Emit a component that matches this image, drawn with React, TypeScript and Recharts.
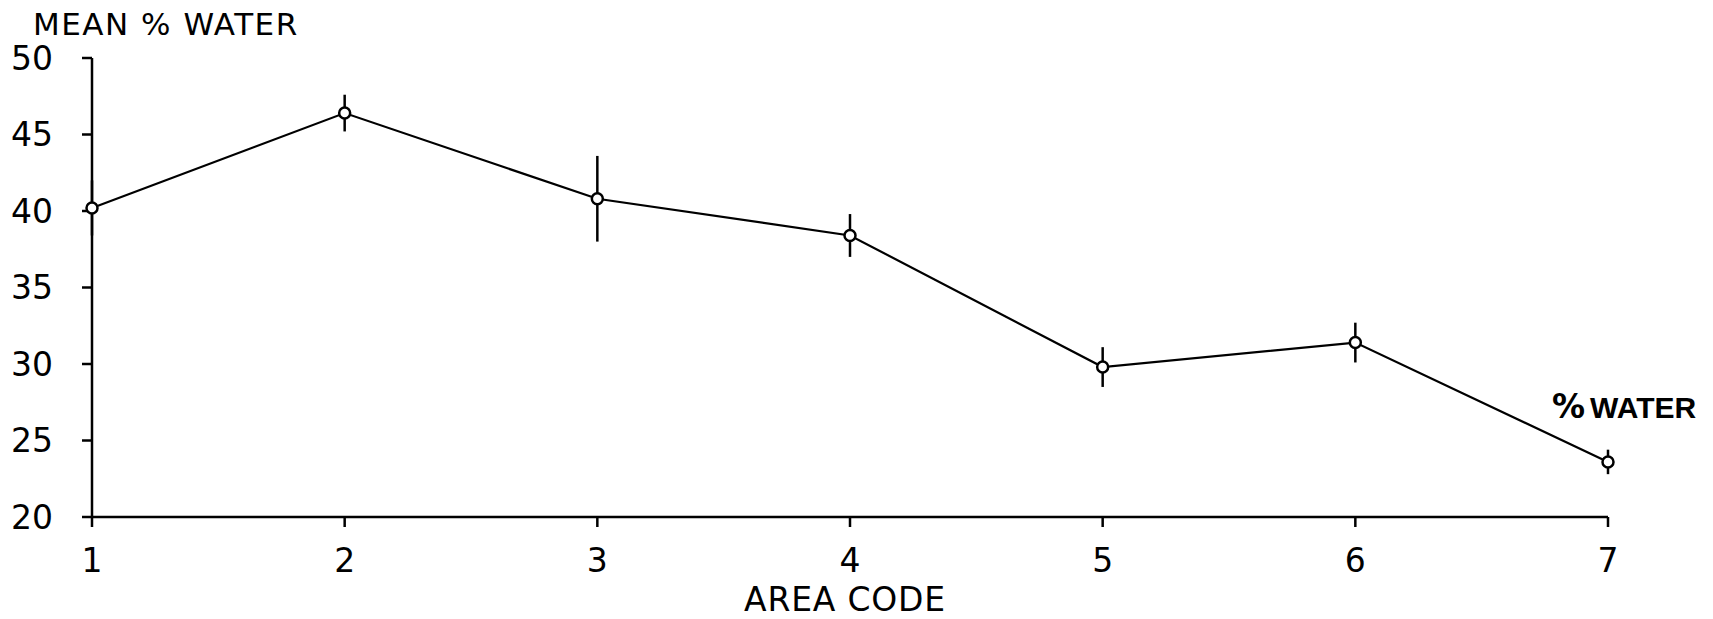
import React from 'react';
import { LineChart, Line, XAxis, YAxis, ErrorBar } from 'recharts';

// area codes along the x axis
const areaCodes = [1, 2, 3, 4, 5, 6, 7];
// mean % water per area
const meanWater = [40.2, 46.4, 40.8, 38.4, 29.8, 31.4, 23.6];
// half-length of each vertical error bar
const waterError = [1.8, 1.2, 2.8, 1.4, 1.3, 1.3, 0.8];

const yTicks = [20, 25, 30, 35, 40, 45, 50];
const xTicks = [1, 2, 3, 4, 5, 6, 7];

const data = areaCodes.map((area, i) => ({
  area,
  water: meanWater[i],
  err: waterError[i],
}));

const ink = '#000';
const plotFont = '"DejaVu Sans", sans-serif';

export default function App() {
  return (
    <div style={{ position: 'absolute', left: 0, top: 0, width: 1713, height: 619, background: '#fff' }}>
      <LineChart
        width={1713}
        height={619}
        data={data}
        margin={{ top: 58, right: 105, bottom: 42, left: 0 }}
      >
        <XAxis
          dataKey="area"
          type="number"
          domain={[1, 7]}
          ticks={xTicks}
          height={60}
          tickSize={10}
          tickMargin={22}
          axisLine={{ stroke: ink, strokeWidth: 2.5 }}
          tickLine={{ stroke: ink, strokeWidth: 2.5 }}
          tick={{ fill: ink, fontSize: 33, fontFamily: plotFont }}
        />
        <YAxis
          type="number"
          domain={[20, 50]}
          ticks={yTicks}
          width={92}
          tickSize={10}
          tickMargin={29}
          axisLine={{ stroke: ink, strokeWidth: 2.5 }}
          tickLine={{ stroke: ink, strokeWidth: 2.5 }}
          tick={{ fill: ink, fontSize: 33, fontFamily: plotFont }}
        />
        <Line
          dataKey="water"
          type="linear"
          stroke={ink}
          strokeWidth={2.2}
          dot={{ r: 5.5, fill: '#fff', stroke: ink, strokeWidth: 2.5 }}
          activeDot={false}
          isAnimationActive={false}
        >
          <ErrorBar dataKey="err" direction="y" width={0} stroke={ink} strokeWidth={2.5} isAnimationActive={false} />
        </Line>
        <text x={33} y={35} fontSize={31} letterSpacing={1.5} fontFamily={plotFont} fill={ink}>
          MEAN % WATER
        </text>
        <text x={845} y={611} textAnchor="middle" fontSize={33} letterSpacing={0.8} fontFamily={plotFont} fill={ink}>
          AREA CODE
        </text>
        <text x={1552} y={418} fill={ink} fontFamily='"Liberation Sans", Arial, sans-serif'>
          <tspan fontSize={33} fontWeight={900} fontFamily={plotFont}>%</tspan>
          <tspan dx={5} fontSize={30} fontWeight={600}>WATER</tspan>
        </text>
      </LineChart>
    </div>
  );
}
